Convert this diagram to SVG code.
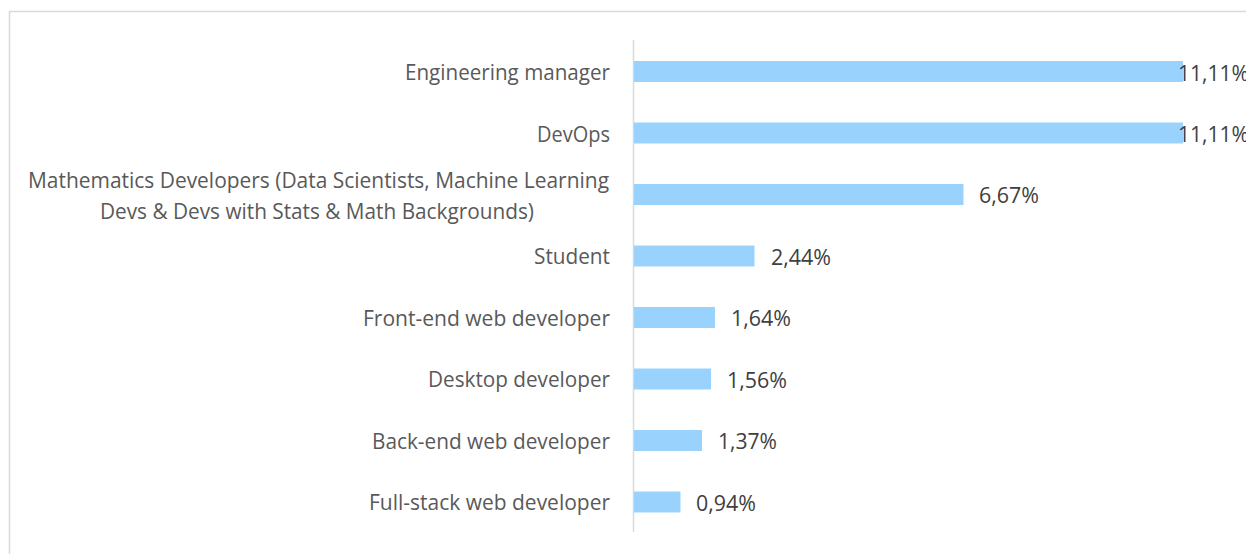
<svg xmlns="http://www.w3.org/2000/svg" width="1246" height="554" viewBox="0 0 1246 554">
<style>
.lbl{font-family:"Open Sans","Liberation Sans",sans-serif;font-size:21px;fill:#595959;text-anchor:end}
.ctr{text-anchor:middle}
.val{font-family:"Open Sans","Liberation Sans",sans-serif;font-size:21px;fill:#404040}
.bar{fill:#99d3fd}
</style>
<rect width="1246" height="554" fill="#ffffff"/>
<rect x="9.5" y="11.5" width="1260" height="560" fill="none" stroke="#d9d9d9" stroke-width="1.5"/>
<g id="connectors">
<line x1="633.5" y1="40" x2="633.5" y2="532" stroke="#d9d9d9" stroke-width="1.5"/>
</g>
<g id="engineering-manager">
<text class="lbl" x="610" y="80" textLength="205" lengthAdjust="spacingAndGlyphs">Engineering manager</text>
<rect class="bar" x="634" y="61" width="549" height="21"/>
<text class="val" x="1178" y="80.5" textLength="71" lengthAdjust="spacingAndGlyphs">11,11%</text>
</g>
<g id="devops">
<text class="lbl" x="610" y="141.5" textLength="73" lengthAdjust="spacingAndGlyphs">DevOps</text>
<rect class="bar" x="634" y="122.5" width="549" height="21"/>
<text class="val" x="1178" y="142" textLength="71" lengthAdjust="spacingAndGlyphs">11,11%</text>
</g>
<g id="mathematics-developers">
<text class="lbl ctr" x="318.5" y="187.5" textLength="581" lengthAdjust="spacingAndGlyphs">Mathematics Developers (Data Scientists, Machine Learning</text>
<text class="lbl ctr" x="317" y="218.5" textLength="434" lengthAdjust="spacingAndGlyphs">Devs &amp; Devs with Stats &amp; Math Backgrounds)</text>
<rect class="bar" x="634" y="184" width="329.5" height="21"/>
<text class="val" x="979" y="203" textLength="60" lengthAdjust="spacingAndGlyphs">6,67%</text>
</g>
<g id="student">
<text class="lbl" x="610" y="264" textLength="76" lengthAdjust="spacingAndGlyphs">Student</text>
<rect class="bar" x="634" y="245.5" width="120.5" height="21"/>
<text class="val" x="771" y="264.5" textLength="60" lengthAdjust="spacingAndGlyphs">2,44%</text>
</g>
<g id="front-end">
<text class="lbl" x="610" y="325.5" textLength="247" lengthAdjust="spacingAndGlyphs">Front-end web developer</text>
<rect class="bar" x="634" y="307" width="81" height="21"/>
<text class="val" x="731" y="326" textLength="60" lengthAdjust="spacingAndGlyphs">1,64%</text>
</g>
<g id="desktop">
<text class="lbl" x="610" y="387" textLength="182" lengthAdjust="spacingAndGlyphs">Desktop developer</text>
<rect class="bar" x="634" y="368.5" width="77" height="21"/>
<text class="val" x="727" y="387.5" textLength="60" lengthAdjust="spacingAndGlyphs">1,56%</text>
</g>
<g id="back-end">
<text class="lbl" x="610" y="448.5" textLength="238" lengthAdjust="spacingAndGlyphs">Back-end web developer</text>
<rect class="bar" x="634" y="430" width="68" height="21"/>
<text class="val" x="718" y="449" textLength="59" lengthAdjust="spacingAndGlyphs">1,37%</text>
</g>
<g id="full-stack">
<text class="lbl" x="610" y="510" textLength="241" lengthAdjust="spacingAndGlyphs">Full-stack web developer</text>
<rect class="bar" x="634" y="491.5" width="46.5" height="21"/>
<text class="val" x="696" y="510.5" textLength="60" lengthAdjust="spacingAndGlyphs">0,94%</text>
</g>
</svg>
